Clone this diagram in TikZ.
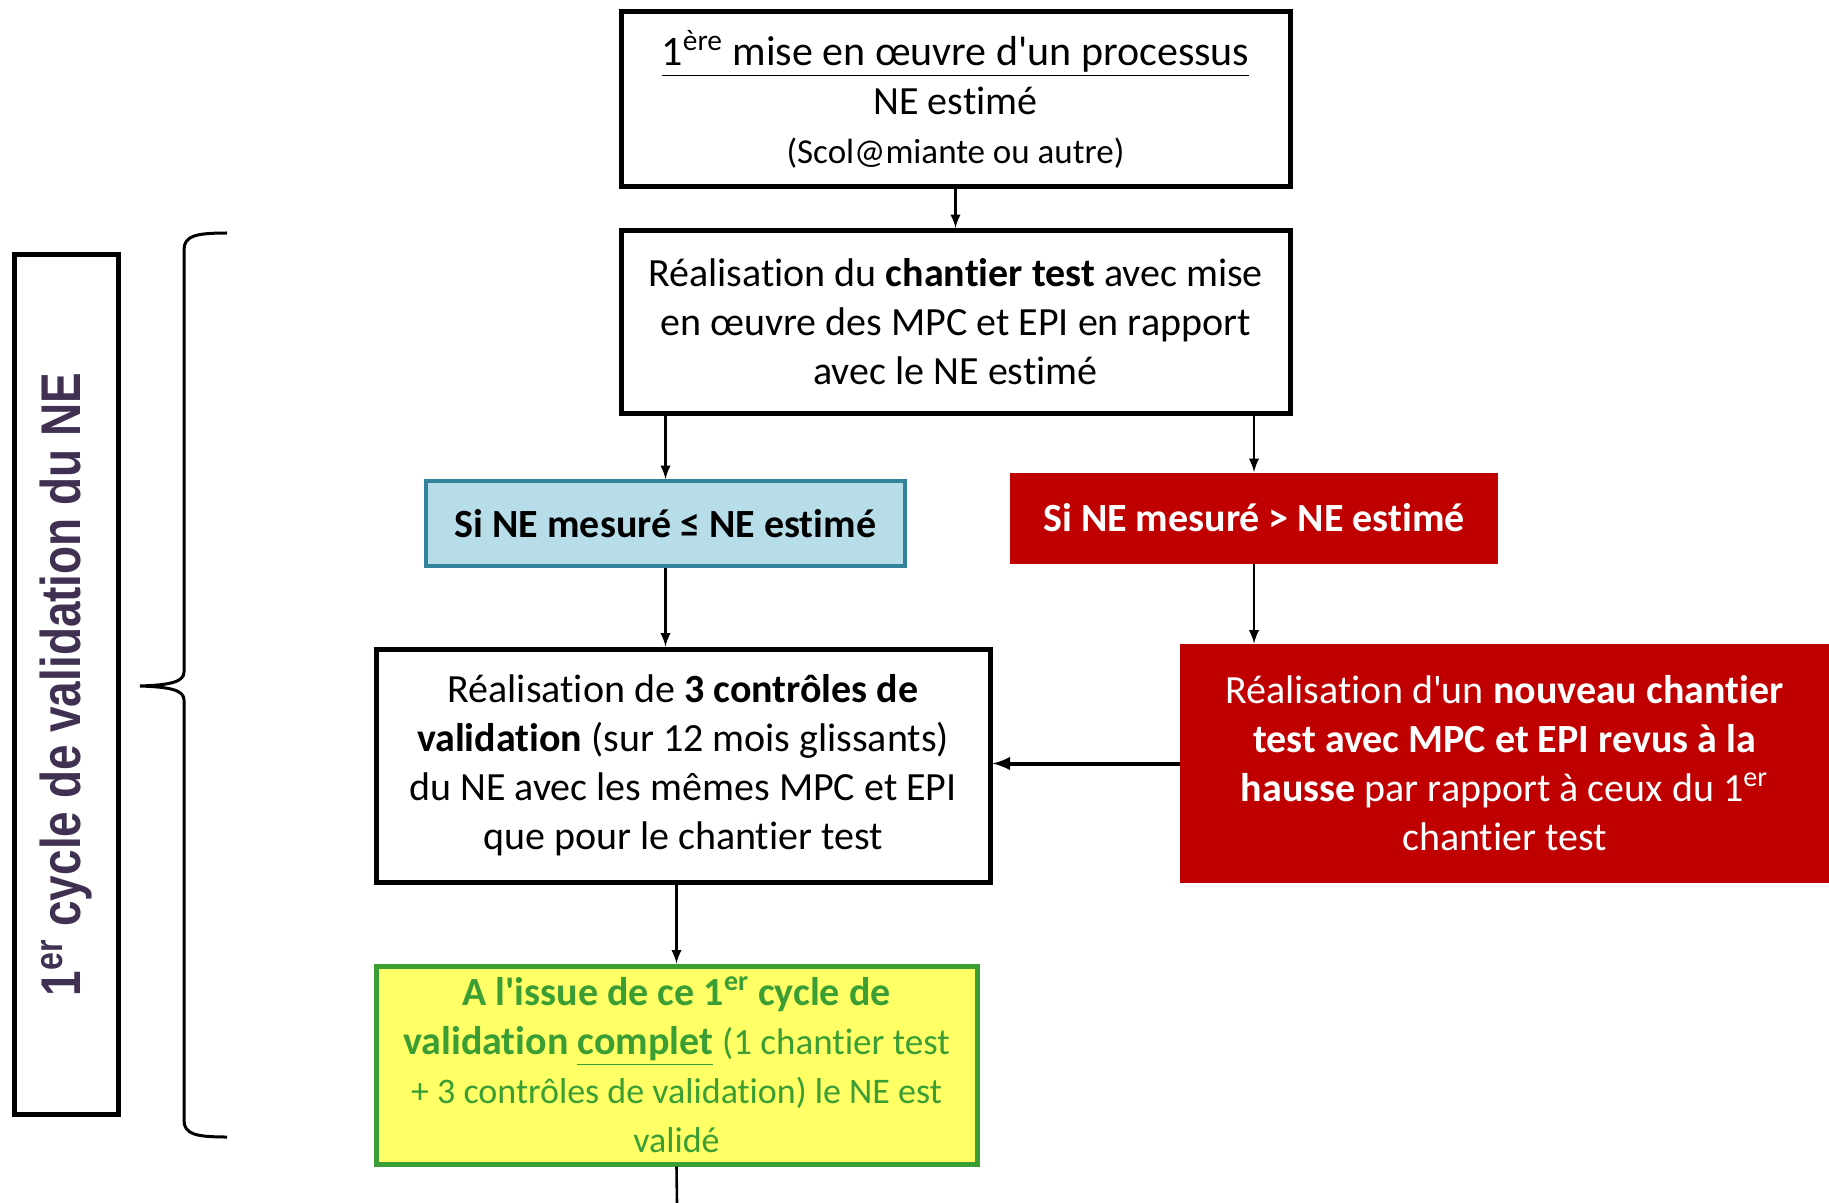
\documentclass[tikz,border=0pt]{standalone}
\usepackage{fontspec}
\setmainfont{Carlito}[Ligatures={TeXOff,NoCommon,NoContextual,NoRare,NoDiscretionary}]
\newfontfamily\sidefont{Liberation Sans}[FakeStretch=0.82]
\definecolor{bluefill}{HTML}{B7DDE8}
\definecolor{blueline}{HTML}{31849B}
\definecolor{redfill}{HTML}{C00000}
\definecolor{yellowfill}{HTML}{FFFF66}
\definecolor{greenline}{HTML}{3A9E35}
\definecolor{sidetext}{HTML}{403152}
\tikzset{
	boxtext/.style={align=center, inner sep=0pt, font=\fontsize{20}{24.5}\selectfont},
	blackbox/.style={boxtext, draw, line width=2.5pt},
	bluebox/.style={boxtext, draw=blueline, line width=2pt, fill=bluefill},
	redbox/.style={boxtext, fill=redfill, text=white},
	greenbox/.style={boxtext, draw=greenline, line width=2.5pt, fill=yellowfill, text=greenline},
	arrow/.style={-latex, line width=1.3pt},
	bigarrow/.style={-latex, line width=2pt}
}
\begin{document}
\begin{tikzpicture}[x=0.5pt, y=-0.5pt]
	\useasboundingbox (0,0) rectangle (1829,1203);

	\node[blackbox, minimum width=334.5pt, minimum height=87.5pt] (processus) at (955.5,99.5)
		{\fontsize{21}{24.5}\selectfont\underline{1\textsuperscript{ère} mise en œuvre d'un processus}\\ NE estimé\\ {\fontsize{17.5}{22}\selectfont (Scol@miante ou autre)}};

	\node[blackbox, minimum width=334.5pt, minimum height=91.5pt] (chantier) at (955.5,322)
		{Réalisation du \textbf{chantier test} avec mise\\ en œuvre des MPC et EPI en rapport\\ avec le NE estimé};

	\node[bluebox, minimum width=239.5pt, minimum height=42.5pt] (inferieur) at (665.5,523.5)
		{\textbf{Si NE mesuré ≤ NE estimé}};

	\node[redbox, minimum width=244pt, minimum height=45.5pt] (superieur) at (1254,518)
		{\textbf{Si NE mesuré > NE estimé}};

	\node[blackbox, minimum width=307pt, minimum height=116.5pt] (controles) at (683,765.5)
		{Réalisation de \textbf{3 contrôles de}\\ \textbf{validation} (sur 12 mois glissants)\\ du NE avec les mêmes MPC et EPI\\ que pour le chantier test};

	\node[redbox, minimum width=324.5pt, minimum height=119.5pt] (nouveau) at (1504.5,763.5)
		{Réalisation d'un \textbf{nouveau chantier}\\ \textbf{test avec MPC et EPI revus à la}\\ \textbf{hausse} par rapport à ceux du 1\textsuperscript{er}\\ chantier test};

	\node[greenbox, minimum width=300.5pt, minimum height=99pt] (valide) at (676.5,1065)
		{\textbf{A l'issue de ce 1\textsuperscript{er} cycle de}\\ \textbf{validation \underline{complet}} {\fontsize{18.5}{24.5}\selectfont(1 chantier test}\\ {\fontsize{18}{22}\selectfont + 3 contrôles de validation) le NE est}\\ {\fontsize{18}{22}\selectfont validé}};

	\node[draw, line width=2.5pt, rotate=90, minimum width=429.5pt, minimum height=52pt, inner sep=0pt,
		text=sidetext, font=\sidefont\bfseries\fontsize{28}{30}\selectfont] (cycle) at (66,684.5)
		{1\textsuperscript{er} cycle de validation du NE};

	\coordinate (sortie) at (677,1203);

	% liaisons
	\draw[arrow] (processus) -- (chantier);
	\draw[arrow] (chantier.south -| inferieur.north) -- (inferieur.north);
	\draw[arrow] (chantier.south -| superieur.north) -- (superieur.north);
	\draw[arrow] (inferieur.south) -- (inferieur.south |- controles.north);
	\draw[arrow] (superieur.south) -- (superieur.south |- nouveau.north);
	\draw[bigarrow] (nouveau.west) -- (nouveau.west -| controles.east);
	\draw[arrow] (controles.south -| valide.north) -- (valide.north);
	\draw[line width=1.3pt] (valide.south) -- (sortie);

	% accolade
	\draw[line width=1.5pt] (227,233) .. controls (195,233) and (184,236) .. (184,250) -- (184,672)
		.. controls (184,682) and (170,685) .. (140,686) .. controls (170,687) and (184,690) .. (184,700)
		-- (184,1120) .. controls (184,1134) and (195,1137) .. (227,1137);

\end{tikzpicture}
\end{document}
